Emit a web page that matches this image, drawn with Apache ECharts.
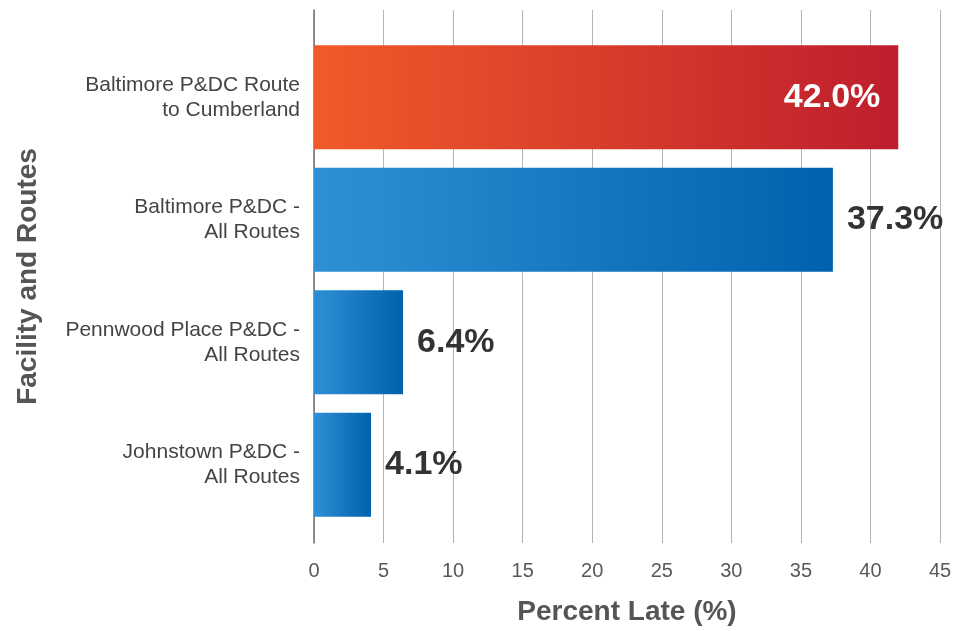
<!DOCTYPE html>
<html>
<head>
<meta charset="utf-8">
<script src="https://cdn.jsdelivr.net/npm/echarts@6/dist/echarts.min.js"></script>
<style>
html,body{margin:0;padding:0;background:#fff;}
#chart{width:955px;height:631px;}
</style>
</head>
<body>
<div id="chart"></div>
<script>
const categories = [
  "Baltimore P&DC Route\nto Cumberland",
  "Baltimore P&DC -\nAll Routes",
  "Pennwood Place P&DC -\nAll Routes",
  "Johnstown P&DC -\nAll Routes"
];
const percentLate = [42.0, 37.3, 6.4, 4.1];
const xTicks = [0, 5, 10, 15, 20, 25, 30, 35, 40, 45];

const FONT = "'Liberation Sans', Arial, sans-serif";

function grad(c1, c2) {
  return new echarts.graphic.LinearGradient(0, 0, 1, 0, [
    { offset: 0, color: c1 },
    { offset: 1, color: c2 }
  ]);
}
const redGrad = grad('#F15A29', '#BE1E2D');
const blueGrad = grad('#2E90D4', '#0061AE');

const chart = echarts.init(document.getElementById('chart'));
const option = {
  backgroundColor: '#ffffff',
  animation: false,
  textStyle: { fontFamily: FONT },
  grid: [
    { left: 314, right: 15, top: 10, bottom: 78 },
    { left: 314, right: 15, top: 36, bottom: 105 }
  ],
  xAxis: [
    {
      gridIndex: 0, type: 'value',
      min: xTicks[0], max: xTicks[xTicks.length - 1], interval: 5,
      axisLine: { show: false }, axisTick: { show: false },
      splitLine: { show: true, lineStyle: { color: '#b4b4b4', width: 1 } },
      axisLabel: { fontSize: 20, color: '#595959', margin: 18, fontFamily: FONT },
      name: 'Percent Late (%)', nameLocation: 'middle', nameGap: 55,
      nameTextStyle: { fontSize: 28, fontWeight: 'bold', color: '#555555', fontFamily: FONT }
    },
    {
      gridIndex: 1, type: 'value',
      min: xTicks[0], max: xTicks[xTicks.length - 1],
      show: false
    }
  ],
  yAxis: [
    {
      gridIndex: 0, type: 'value', min: 0, max: 1,
      axisLine: { show: true, lineStyle: { color: '#707070', width: 1.5 } },
      axisTick: { show: false }, axisLabel: { show: false }, splitLine: { show: false },
      name: 'Facility and Routes', nameLocation: 'middle', nameGap: 272, nameRotate: 90,
      nameTextStyle: { fontSize: 28, fontWeight: 'bold', color: '#555555', fontFamily: FONT }
    },
    {
      gridIndex: 1, type: 'category', inverse: true, data: categories,
      axisLine: { show: false }, axisTick: { show: false },
      axisLabel: { fontSize: 21, lineHeight: 25, color: '#444444', margin: 14, align: 'right',
        padding: [4, 0, 0, 0], fontFamily: FONT }
    }
  ],
  series: [{
    type: 'bar',
    xAxisIndex: 1, yAxisIndex: 1,
    barWidth: 104,
    data: percentLate.map((v, i) => ({
      value: v,
      itemStyle: { color: i === 0 ? redGrad : blueGrad },
      label: i === 0
        ? { show: true, position: 'insideRight', distance: 18, color: '#ffffff' }
        : { show: true, position: 'right', distance: 14, color: '#333333' }
    })),
    label: {
      show: true, fontSize: 34, fontWeight: 'bold', fontFamily: FONT,
      formatter: p => p.value.toFixed(1) + '%'
    }
  }]
};
chart.setOption(option);
</script>
</body>
</html>
